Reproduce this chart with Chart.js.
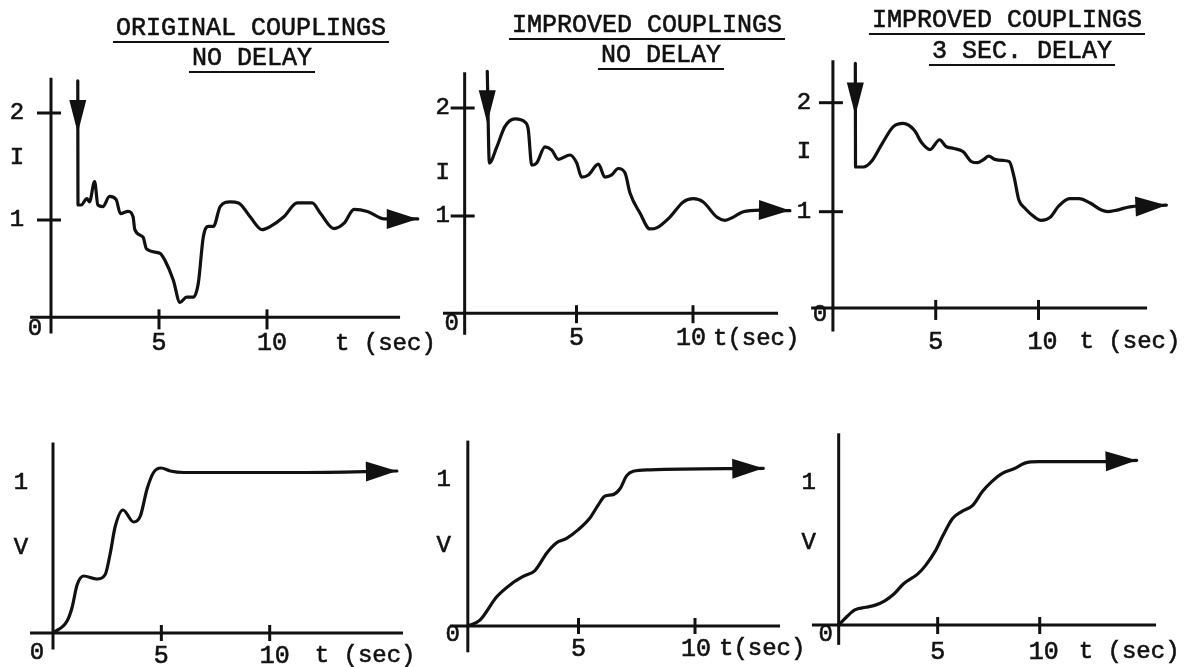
<!DOCTYPE html>
<html>
<head>
<meta charset="utf-8">
<title>Couplings response</title>
<script src="https://cdn.jsdelivr.net/npm/chart.js@4.4.0/dist/chart.umd.min.js"></script>
<style>
  html, body { margin: 0; padding: 0; background: #fff; }
  #page { position: relative; width: 1203px; height: 667px; overflow: hidden; background: #fff; }
  #page canvas { position: absolute; left: 0; top: 0; }
</style>
</head>
<body>
<div id="page"></div>
<script>
// Valores (t em segundos, I e V em p.u.)

// Painel 1: original couplings, no delay (corrente)
const p1Time = [1.24, 1.25, 1.40, 1.66, 1.78, 2.02, 2.17, 2.40, 2.71, 3.02, 3.21, 3.57, 3.80, 3.88, 4.26, 4.42,
  5.04, 5.27, 5.66, 5.97, 6.28, 6.59, 6.82, 7.05, 7.29, 7.52, 7.83, 8.29, 8.68, 9.22, 9.77, 10.16, 10.78,
  11.40, 12.09, 12.48, 13.10, 13.57, 14.03, 14.65, 15.43, 16.98];
const p1Current = [2.30, 1.14, 1.14, 1.20, 1.17, 1.36, 1.14, 1.125, 1.22, 1.19, 1.06, 1.08, 1.03, 0.91, 0.84, 0.73,
  0.69, 0.625, 0.44, 0.23, 0.28, 0.28, 0.41, 0.84, 0.94, 0.94, 1.125, 1.17, 1.16, 1.03, 0.91, 0.94, 1.03,
  1.16, 1.16, 1.06, 0.92, 0.97, 1.10, 1.08, 1.01, 1.01];

// Painel 2: improved couplings, no delay (corrente)
const p2Time = [1.17, 1.26, 1.58, 1.93, 2.36, 2.79, 2.93, 3.08, 3.29, 3.65, 3.94, 4.22, 4.72, 5.01, 5.22, 5.51,
  5.94, 6.22, 6.51, 6.79, 7.08, 7.30, 7.73, 8.15, 8.44, 9.01, 9.58, 10.01, 10.44, 11.02, 11.37, 11.73,
  12.16, 12.88, 14.16];
const p2Current = [2.34, 1.49, 1.64, 1.83, 1.90, 1.87, 1.80, 1.47, 1.49, 1.64, 1.61, 1.525, 1.565, 1.49, 1.36, 1.38,
  1.48, 1.36, 1.38, 1.44, 1.40, 1.21, 1.025, 0.88, 0.89, 0.99, 1.13, 1.16, 1.13, 0.99, 0.96, 0.99,
  1.04, 1.055, 1.05];

// Painel 3: improved couplings, 3 sec. delay (corrente)
const p3Time = [1.09, 1.10, 1.48, 1.87, 2.41, 2.94, 3.41, 3.95, 4.33, 4.72, 5.19, 5.49, 5.88, 6.34, 6.73, 7.04,
  7.34, 7.57, 7.88, 8.27, 8.58, 8.81, 9.04, 9.35, 9.81, 10.12, 10.58, 10.97, 11.51, 11.97, 12.51, 13.06,
  13.36, 13.82, 14.44, 16.22];
const p3Current = [2.36, 1.41, 1.41, 1.46, 1.63, 1.78, 1.81, 1.75, 1.63, 1.57, 1.66, 1.60, 1.58, 1.55, 1.46, 1.45,
  1.48, 1.51, 1.48, 1.47, 1.46, 1.32, 1.11, 1.03, 0.95, 0.92, 0.95, 1.05, 1.12, 1.12, 1.08, 1.015,
  1.0, 1.015, 1.045, 1.06];

// Painel 4: original couplings (tensão)
const p4Time = [0, 0.65, 0.88, 1.11, 1.41, 2.03, 2.41, 2.64, 2.87, 3.23, 3.72, 4.03, 4.34, 4.64, 4.98, 5.41,
  6.03, 11.41, 15.87];
const p4Voltage = [0, 0.08, 0.17, 0.32, 0.38, 0.36, 0.39, 0.53, 0.71, 0.82, 0.74, 0.78, 0.96, 1.07, 1.10, 1.08,
  1.07, 1.07, 1.08];

// Painel 5: improved couplings, no delay (tensão)
const p5Time = [0.25, 0.77, 1.49, 2.13, 2.63, 3.13, 3.64, 4.06, 4.49, 4.99, 5.49, 5.85, 6.14, 6.49, 6.78, 7.07,
  7.35, 8.07, 12.93];
const p5Voltage = [0, 0.04, 0.20, 0.29, 0.34, 0.38, 0.50, 0.57, 0.60, 0.66, 0.74, 0.83, 0.89, 0.90, 0.94, 1.03,
  1.06, 1.07, 1.08];

// Painel 6: improved couplings, 3 sec. delay (tensão)
const p6Time = [0.15, 0.56, 0.94, 1.48, 1.94, 2.41, 2.87, 3.33, 4.03, 4.41, 4.88, 5.26, 5.73, 6.19, 6.73, 7.19,
  7.65, 8.19, 8.74, 9.27, 9.97, 12.75, 14.75];
const p6Voltage = [0, 0.06, 0.106, 0.125, 0.14, 0.17, 0.22, 0.29, 0.36, 0.42, 0.52, 0.63, 0.75, 0.80, 0.845, 0.94,
  1.01, 1.07, 1.10, 1.14, 1.15, 1.15, 1.16];

// Ticks e textos
const timeTicks = [5, 10];
const currentTicks = [2, 1];
const voltageTicks = [1];
const titleLines = [
  ['ORIGINAL COUPLINGS', 'NO DELAY'],
  ['IMPROVED COUPLINGS', 'NO DELAY'],
  ['IMPROVED COUPLINGS', '3 SEC. DELAY']
];

const FONT = '"Liberation Mono", "Courier New", monospace';
const INK = '#111';
const W = 1203, H = 667;

// Layout de cada painel (pixels da página)
const panels = [
  { t: p1Time, v: p1Current, name: 'I', nameAt: 1.58, ticks: currentTicks, tickMarks: true, startArrow: true,
    x0: 51, sx: 21.6, y0: 327, sy: 107, vRange: [-0.35, 2.6],
    xAxis: [-0.97, 16.16], xAxisAt: 0.09, yAxis: [-0.06, 2.33], yAxisAt: 0,
    labelDx: -34, zero: [-16, 11], tickDy: 26, tickDown: 12, tenDx: 5, unit: 't (sec)', unitDx: 68,
    title: titleLines[0], titleX: [251, 252], titleBase: [35, 65] },
  { t: p2Time, v: p2Current, name: 'I', nameAt: 1.40, ticks: currentTicks, tickMarks: true, startArrow: true,
    x0: 460, sx: 23.3, y0: 324, sy: 108, vRange: [-0.35, 2.6],
    xAxis: [-0.73, 13.65], xAxisAt: 0.10, yAxis: [-0.1, 2.33], yAxisAt: 0.2,
    labelDx: -22, zero: [-13, 10], tickDy: 25, tickDown: 10, tenDx: -2, unit: 't(sec)', unitDx: 20,
    title: titleLines[1], titleX: [647, 661], titleBase: [32, 62] },
  { t: p3Time, v: p3Current, name: 'I', nameAt: 1.55, ticks: currentTicks, tickMarks: true, startArrow: true,
    x0: 835, sx: 21.6, y0: 320.7, sy: 109, vRange: [-0.35, 2.6],
    xAxis: [-1.06, 15.28], xAxisAt: 0.117, yAxis: [-0.1, 2.39], yAxisAt: 0,
    labelDx: -29, zero: [-13, 7], tickDy: 34, tickDown: 12, tenDx: 4, unit: 't (sec)', unitDx: 41,
    title: titleLines[2], titleX: [1007, 1022], titleBase: [27, 58] },
  { t: p4Time, v: p4Voltage, name: 'V', nameAt: 0.57, ticks: voltageTicks, tickMarks: false, startArrow: false,
    x0: 53, sx: 21.67, y0: 633, sy: 150, vRange: [-0.2, 1.5],
    xAxis: [-1.06, 16.15], xAxisAt: 0, yAxis: [-0.11, 1.27], yAxisAt: 0,
    labelDx: -32, zero: [-16, 20], tickDy: 23, tickDown: 8, tenDx: 5, unit: 't (sec)', unitDx: 45 },
  { t: p5Time, v: p5Voltage, name: 'V', nameAt: 0.55, ticks: voltageTicks, tickMarks: false, startArrow: false,
    x0: 462, sx: 23.3, y0: 626, sy: 146, vRange: [-0.2, 1.5],
    xAxis: [-0.52, 13.65], xAxisAt: 0, yAxis: [-0.18, 1.27], yAxisAt: 0.25,
    labelDx: -24, zero: [-15, 9], tickDy: 23, tickDown: 8, tenDx: 1, unit: 't(sec)', unitDx: 24 },
  { t: p6Time, v: p6Voltage, name: 'V', nameAt: 0.58, ticks: voltageTicks, tickMarks: false, startArrow: false,
    x0: 838, sx: 21.6, y0: 625, sy: 142, vRange: [-0.2, 1.5],
    xAxis: [-1.16, 15.7], xAxisAt: 0, yAxis: [-0.14, 1.35], yAxisAt: 0.15,
    labelDx: -30, zero: [-13, 10], tickDy: 27, tickDown: 9, tenDx: 4, unit: 't (sec)', unitDx: 39 }
];

const T_RANGE = [-2, 18];

function seg(ctx, x1, y1, x2, y2) {
  ctx.beginPath();
  ctx.moveTo(x1, y1);
  ctx.lineTo(x2, y2);
  ctx.stroke();
}

function arrowHead(ctx, tipX, tipY, angle, len, width) {
  const bx = tipX - len * Math.cos(angle);
  const by = tipY - len * Math.sin(angle);
  const nx = -Math.sin(angle) * width / 2;
  const ny = Math.cos(angle) * width / 2;
  ctx.beginPath();
  ctx.moveTo(tipX, tipY);
  ctx.lineTo(bx + nx, by + ny);
  ctx.lineTo(bx - nx, by - ny);
  ctx.closePath();
  ctx.fill();
}

// texto "datilografado": preenche e engrossa de leve com contorno
function typeText(ctx, txt, x, y) {
  ctx.fillText(txt, x, y);
  ctx.strokeText(txt, x, y);
}

// Plugin que desenha eixos à mão, setas e textos
function sketchPlugin(p) {
  return {
    id: 'sketch',
    beforeDatasetsDraw(chart) {
      const ctx = chart.ctx;
      const xs = chart.scales.x, ys = chart.scales.y;
      const ay = ys.getPixelForValue(p.xAxisAt);
      const ax = xs.getPixelForValue(p.yAxisAt);
      ctx.save();
      ctx.strokeStyle = INK;
      ctx.lineWidth = 3;
      seg(ctx, xs.getPixelForValue(p.xAxis[0]), ay, xs.getPixelForValue(p.xAxis[1]), ay);
      seg(ctx, ax, ys.getPixelForValue(p.yAxis[0]), ax, ys.getPixelForValue(p.yAxis[1]));
      timeTicks.forEach(t => {
        const x = xs.getPixelForValue(t);
        seg(ctx, x, ay - 8, x, ay + p.tickDown);
      });
      if (p.tickMarks) {
        p.ticks.forEach(v => {
          const y = ys.getPixelForValue(v);
          seg(ctx, ax - 14, y, ax + 10, y);
        });
      }
      ctx.restore();
    },
    afterDatasetsDraw(chart) {
      const ctx = chart.ctx;
      const xs = chart.scales.x, ys = chart.scales.y;
      const pts = chart.getDatasetMeta(0).data;
      const ay = ys.getPixelForValue(p.xAxisAt);
      const ax = xs.getPixelForValue(p.yAxisAt);
      ctx.save();
      ctx.fillStyle = INK;
      ctx.strokeStyle = INK;

      // seta final
      const last = pts[pts.length - 1], prev = pts[pts.length - 2];
      arrowHead(ctx, last.x, last.y, Math.atan2(last.y - prev.y, last.x - prev.x), 31, 20);
      // seta de perturbação no início
      if (p.startArrow) {
        const first = pts[0];
        arrowHead(ctx, first.x, first.y + 52, Math.PI / 2, 33, 17);
      }

      ctx.lineWidth = 0.6;

      // rótulos do eixo vertical
      ctx.font = '24px ' + FONT;
      ctx.textAlign = 'center';
      ctx.textBaseline = 'middle';
      p.ticks.forEach(v => typeText(ctx, String(v), ax + p.labelDx, ys.getPixelForValue(v)));
      typeText(ctx, p.name, ax + p.labelDx, ys.getPixelForValue(p.nameAt));
      typeText(ctx, '0', ax + p.zero[0], ay + p.zero[1]);

      // rótulos do eixo do tempo
      ctx.font = '25px ' + FONT;
      timeTicks.forEach(t => {
        const dx = t === 10 ? p.tenDx : 0;
        typeText(ctx, String(t), xs.getPixelForValue(t) + dx, ay + p.tickDy);
      });
      ctx.font = '24px ' + FONT;
      ctx.textAlign = 'left';
      typeText(ctx, p.unit, xs.getPixelForValue(10) + p.unitDx, ay + p.tickDy);

      // títulos sublinhados
      if (p.title) {
        ctx.font = '25px ' + FONT;
        ctx.textAlign = 'center';
        ctx.textBaseline = 'alphabetic';
        p.title.forEach((txt, i) => {
          const cx = p.titleX[i], by = p.titleBase[i];
          ctx.lineWidth = 0.6;
          typeText(ctx, txt, cx, by);
          const w = ctx.measureText(txt).width + 6;
          ctx.lineWidth = 2;
          seg(ctx, cx - w / 2, by + 7, cx + w / 2, by + 7);
        });
      }
      ctx.restore();
    }
  };
}

function makePanel(p) {
  const canvas = document.createElement('canvas');
  canvas.width = W;
  canvas.height = H;
  document.getElementById('page').appendChild(canvas);

  const left = p.x0 + T_RANGE[0] * p.sx;
  const right = W - (p.x0 + T_RANGE[1] * p.sx);
  const top = p.y0 - p.vRange[1] * p.sy;
  const bottom = H - (p.y0 - p.vRange[0] * p.sy);

  return new Chart(canvas.getContext('2d'), {
    type: 'line',
    data: {
      datasets: [{
        data: p.t.map((t, i) => ({ x: t, y: p.v[i] })),
        borderColor: INK,
        borderWidth: 3.2,
        borderCapStyle: 'round',
        borderJoinStyle: 'round',
        pointRadius: 0,
        cubicInterpolationMode: 'monotone',
        fill: false,
        clip: false
      }]
    },
    options: {
      responsive: false,
      animation: false,
      devicePixelRatio: 1,
      events: [],
      layout: { padding: { left: left, right: right, top: top, bottom: bottom } },
      plugins: { legend: { display: false }, tooltip: { enabled: false }, title: { display: false } },
      scales: {
        x: { type: 'linear', min: T_RANGE[0], max: T_RANGE[1], display: false },
        y: { type: 'linear', min: p.vRange[0], max: p.vRange[1], display: false }
      }
    },
    plugins: [sketchPlugin(p)]
  });
}

panels.forEach(makePanel);
</script>
</body>
</html>
